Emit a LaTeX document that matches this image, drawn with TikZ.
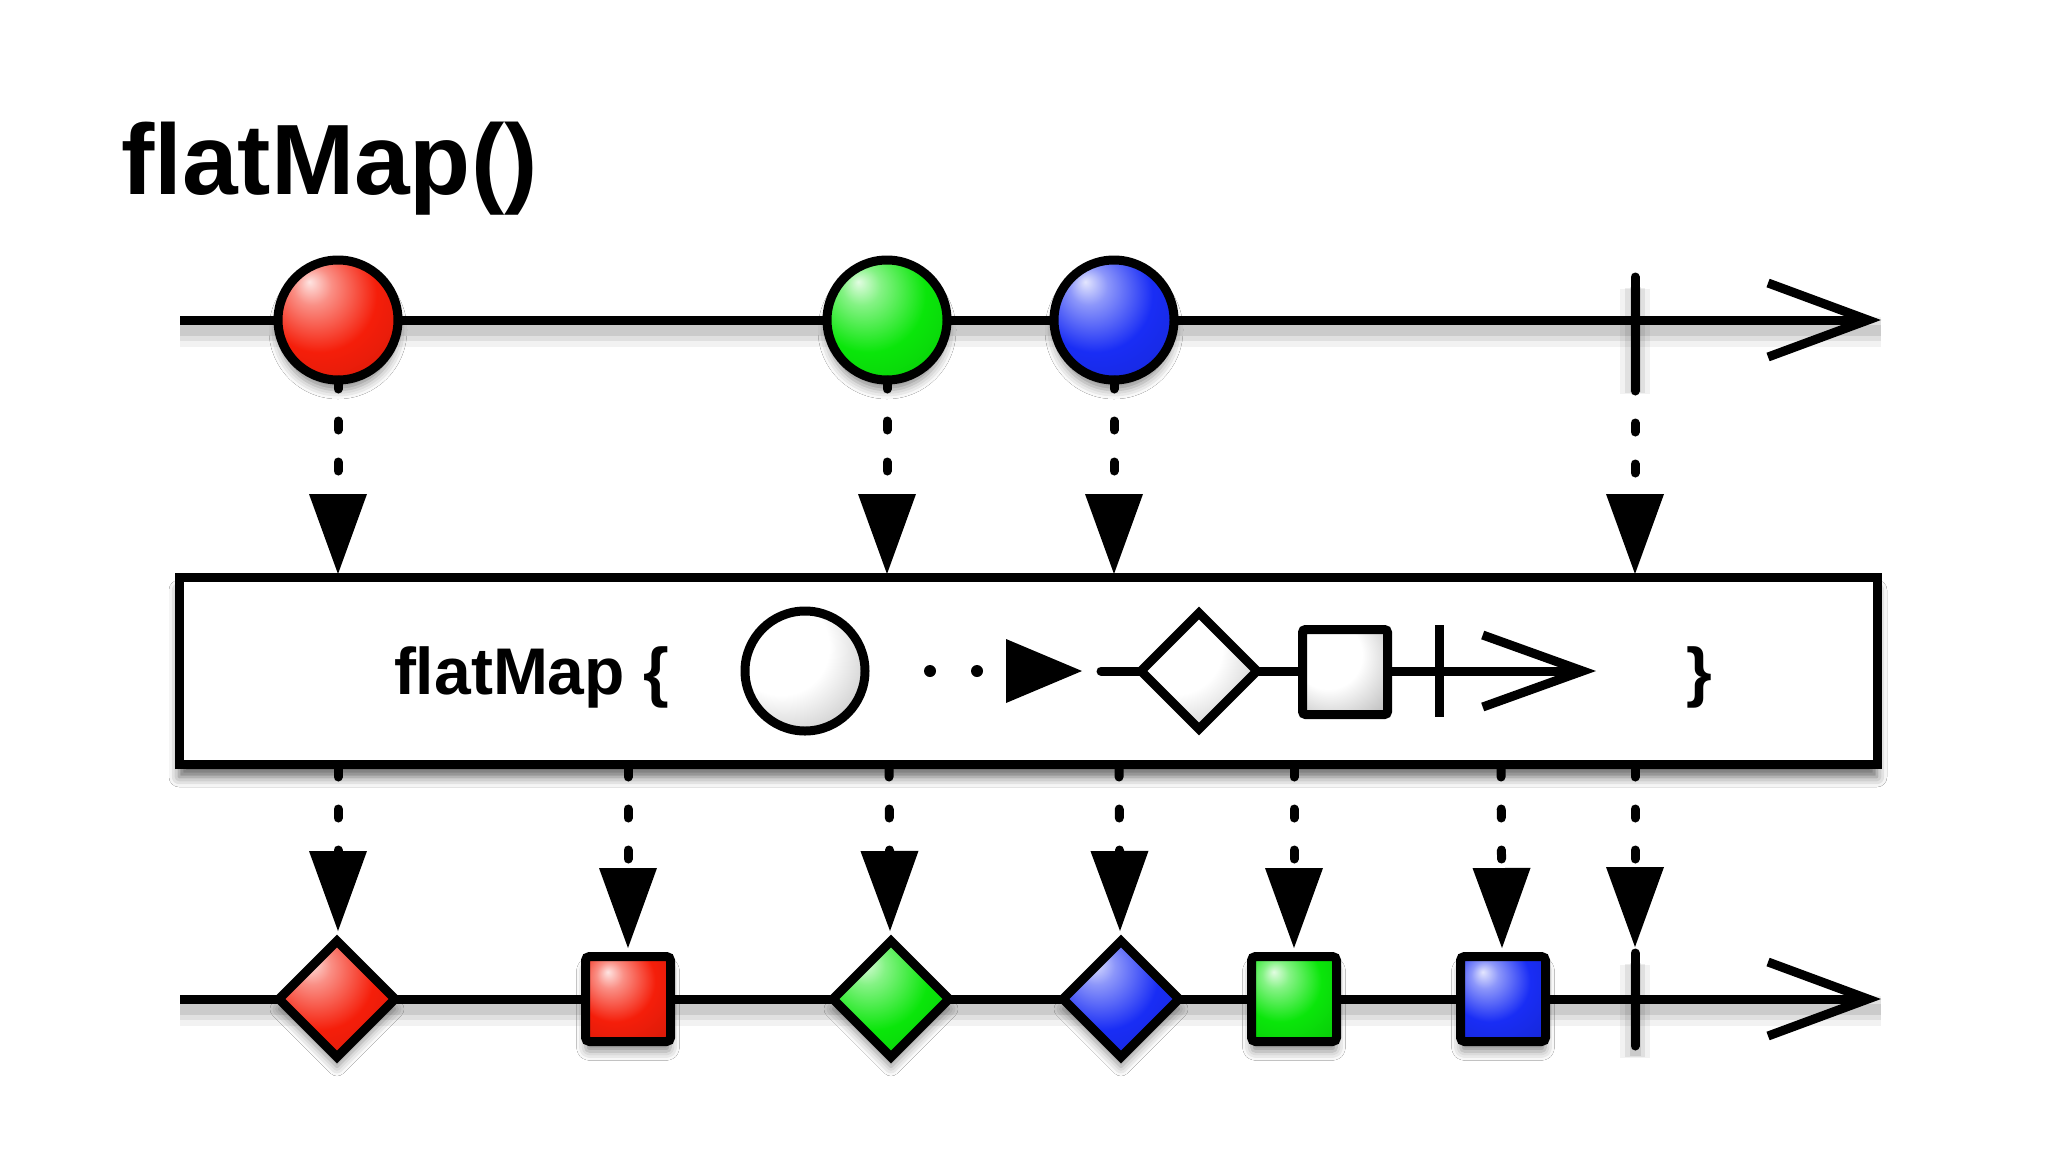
\documentclass[tikz,border=0pt]{standalone}
\usepackage{fontspec}
\setmainfont{Liberation Sans}
\usetikzlibrary{shapes.geometric,arrows.meta,shadows.blur}
\definecolor{mred}{RGB}{245,30,10}
\definecolor{mgreen}{RGB}{10,230,10}
\definecolor{mblue}{RGB}{25,45,245}
\newcommand\mkshade[2]{%
  \pgfdeclareradialshading{#1}{\pgfpoint{-12bp}{16bp}}{%
    color(0bp)=(#2!12!white); color(8bp)=(#2!50!white); color(24bp)=(#2);
    color(46bp)=(#2!85!black); color(70bp)=(#2!72!black)}}
\mkshade{redball}{mred}
\mkshade{greenball}{mgreen}
\mkshade{blueball}{mblue}
\pgfdeclareradialshading{greyball}{\pgfpoint{-14bp}{14bp}}{%
  color(0bp)=(white); color(20bp)=(white); color(38bp)=(black!22); color(56bp)=(black!50); color(70bp)=(black!60)}
\tikzset{
  lineshadow/.style={
    preaction={draw=black, arrows=-, draw opacity=0.05, line width=30pt, transform canvas={yshift=-12pt}},
    preaction={draw=black, arrows=-, draw opacity=0.07, line width=20pt, transform canvas={yshift=-11pt}},
    preaction={draw=black, arrows=-, draw opacity=0.09, line width=11pt, transform canvas={yshift=-10pt}}},
  mainline/.style={lineshadow, draw=black, line width=9pt, -{Straight Barb[length=100pt,width=74pt]}},
  tickmark/.style={lineshadow, draw=black, line width=9pt, line cap=round},
  softshadow/.style={blur shadow={shadow xshift=0pt, shadow yshift=-10pt, shadow blur radius=9pt, shadow opacity=45}},
  marble/.style={circle, minimum size=120pt, draw=black, line width=9pt, shading=#1, softshadow},
  gem/.style={diamond, aspect=1, minimum width=116pt, minimum height=116pt, draw=black, line width=9pt, shading=#1, softshadow},
  cube/.style={rectangle, minimum size=85pt, rounded corners=4pt, draw=black, line width=9pt, shading=#1, softshadow},
  opbox/.style={rectangle, draw=black, fill=white, line width=9pt, minimum width=1698pt, minimum height=187pt,
    blur shadow={shadow xshift=0pt, shadow yshift=-13pt, shadow blur radius=10pt, shadow opacity=60}},
  flow/.style={draw=black, line width=9pt, line cap=round, dash pattern=on 9pt off 32pt,
    -{Triangle[length=80pt,width=58pt,line width=0pt]}},
  dotflow/.style={draw=black, line width=12pt, line cap=round, dash pattern=on 0pt off 47pt,
    -{Triangle[length=76pt,width=64pt,line width=0pt]}},
  innerline/.style={draw=black, line width=9pt, line cap=round, -{Straight Barb[length=100pt,width=72pt]}},
  innershape/.style={draw=black, line width=9pt, shading=greyball},
  titlefont/.style={font=\fontsize{100}{120}\selectfont\bfseries},
  opfont/.style={font=\fontsize{66}{79}\selectfont\bfseries}
}
\begin{document}
\begin{tikzpicture}[x=1pt,y=-1pt, every node/.style={inner sep=0pt, outer sep=0pt}]
\useasboundingbox[fill=white] (0,0) rectangle (2048,1152);

% title
\node[titlefont, anchor=base west] (title) at (121,194) {flatMap()};

% ---------- top timeline ----------
\coordinate (tstart) at (180,320);
\coordinate (tend) at (1881,320);
\draw[mainline] (tstart) -- (tend);
\coordinate (ttop) at (1635,277);
\coordinate (tbot) at (1635,382);
\draw[tickmark] (ttop) -- (tbot);
\node[marble=redball]   (c1) at (338,320) {};
\node[marble=greenball] (c2) at (887,320) {};
\node[marble=blueball]  (c3) at (1114,320) {};

% ---------- operator box ----------
\node[opbox] (box) at (1028,670.5) {};
\node[opfont, anchor=base west] (optext) at (394,694) {flatMap \{};
\node[opfont, anchor=base west] (opclose) at (1686,694) {\}};

\node[innershape, circle, minimum size=120pt] (icirc) at (805,671) {};
\coordinate (dA) at (930,671);
\coordinate (dB) at (1082,671);
\draw[dotflow] (dA) -- (dB);
\coordinate (lA) at (1101,671);
\coordinate (lB) at (1596,671);
\draw[innerline] (lA) -- (lB);
\node[innershape, diamond, aspect=1, minimum width=116pt, minimum height=116pt] (idia) at (1199,671) {};
\node[innershape, rectangle, minimum size=85pt, rounded corners=3pt] (isq) at (1345,672) {};
\coordinate (itA) at (1439,625);
\coordinate (itB) at (1439,717);
\draw[draw=black, line width=9pt] (itA) -- (itB);

% top connectors
\coordinate (bt1) at (338,574);
\coordinate (bt2) at (887,574);
\coordinate (bt3) at (1114,574);
\coordinate (bt4) at (1635,574);
\draw[flow] (c1.south) -- (bt1);
\draw[flow] (c2.south) -- (bt2);
\draw[flow] (c3.south) -- (bt3);
\draw[flow] (tbot) -- (bt4);

% ---------- bottom timeline ----------
\coordinate (bstart) at (180,999);
\coordinate (bend) at (1881,999);
\draw[mainline] (bstart) -- (bend);
\coordinate (btop) at (1635,953);
\coordinate (bbot) at (1635,1046);
\draw[tickmark] (btop) -- (bbot);
\node[gem=redball]   (o1) at (337,999) {};
\node[cube=redball]  (o2) at (628,999) {};
\node[gem=greenball] (o3) at (891,999) {};
\node[gem=blueball]  (o4) at (1121,999) {};
\node[cube=greenball] (o5) at (1294,999) {};
\node[cube=blueball]  (o6) at (1503,999) {};

% bottom connectors
\coordinate (bb1) at (338,768);
\coordinate (bb2) at (628,768);
\coordinate (bb3) at (889,768);
\coordinate (bb4) at (1119,768);
\coordinate (bb5) at (1294,768);
\coordinate (bb6) at (1501,768);
\coordinate (bb7) at (1635,768);
\coordinate (e1) at (338,931);
\coordinate (e2) at (628,948);
\coordinate (e3) at (890,931);
\coordinate (e4) at (1120,931);
\coordinate (e5) at (1294,948);
\coordinate (e6) at (1502,948);
\coordinate (e7) at (1635,947);
\draw[flow] (bb1) -- (e1);
\draw[flow] (bb2) -- (e2);
\draw[flow] (bb3) -- (e3);
\draw[flow] (bb4) -- (e4);
\draw[flow] (bb5) -- (e5);
\draw[flow] (bb6) -- (e6);
\draw[flow] (bb7) -- (e7);
\end{tikzpicture}
\end{document}
